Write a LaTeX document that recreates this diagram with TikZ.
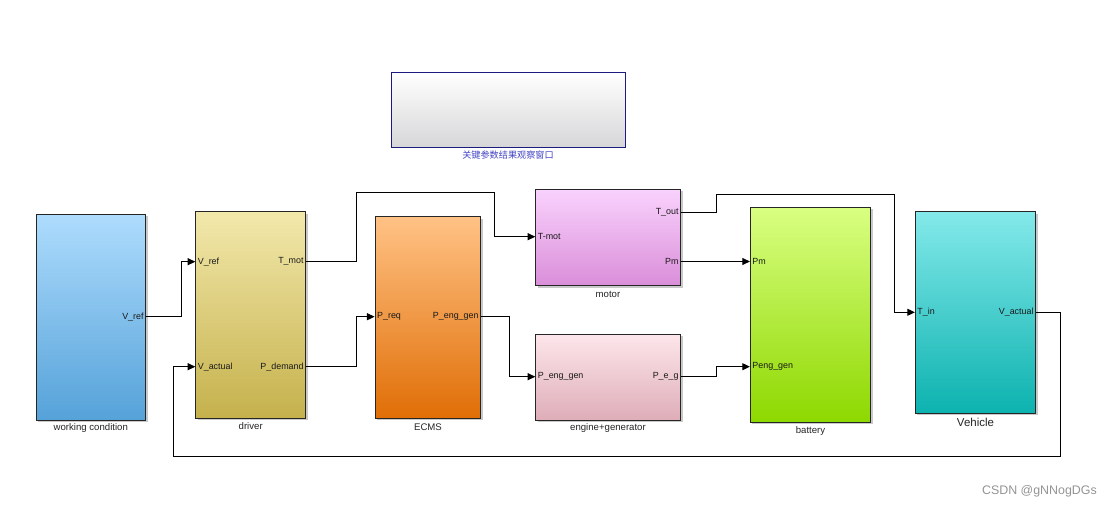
\documentclass[tikz,border=0pt]{standalone}
\usepackage{fontspec}
\setmainfont{Liberation Sans}
\newfontfamily\cjk{Noto Sans CJK SC}
\usetikzlibrary{arrows.meta,fit,shadows}
\definecolor{wcT}{HTML}{AEDCFD}\definecolor{wcB}{HTML}{55A2D9}
\definecolor{drT}{HTML}{F2E8AB}\definecolor{drB}{HTML}{C5B14C}
\definecolor{ecT}{HTML}{FFC285}\definecolor{ecB}{HTML}{E06E06}
\definecolor{moT}{HTML}{F9D2FD}\definecolor{moB}{HTML}{DA8ED9}
\definecolor{egT}{HTML}{FDE6EB}\definecolor{egB}{HTML}{DEADB8}
\definecolor{baT}{HTML}{D9FF82}\definecolor{baB}{HTML}{8ED800}
\definecolor{veT}{HTML}{84E9EA}\definecolor{veB}{HTML}{0CB2AF}
\definecolor{scB}{HTML}{D6D6D8}\definecolor{scE}{HTML}{1C1C80}
\definecolor{cjkC}{HTML}{4444C4}
\tikzset{
  blk/.style={draw=black!85, line width=0.7pt, inner sep=0pt,
    drop shadow={shadow xshift=1.6pt, shadow yshift=-1.6pt, opacity=0.35, fill=black!60}},
  port/.style={font=\fontsize{7.6}{9}\selectfont, inner sep=1pt, text=black!90},
  blkcap/.style={font=\fontsize{8.2}{10}\selectfont, inner sep=0pt, text=black!85},
  wire/.style={line width=0.8pt, draw=black},
  sig/.style={wire, -{Triangle[length=6.5pt,width=6pt]}},
}
\begin{document}
\begin{tikzpicture}[x=0.03cm, y=-0.03cm]
\useasboundingbox (0,0) rectangle (1113,508);
\fill[white] (0,0) rectangle (1113,508);

% scope window
\node[draw=scE, line width=0.8pt, top color=white, bottom color=scB, inner sep=0pt,
  fit={(391,72.5) (625.5,147.5)}] (scope) {};
\node[font=\cjk\fontsize{7.8}{9}\selectfont, text=cjkC, inner sep=0pt] (scopecap) at (508,155.5) {关键参数结果观察窗口};

% blocks
\node[blk, top color=wcT, bottom color=wcB, fit={(36,214.3) (145.7,420)}] (wc) {};
\node[blk, top color=drT, bottom color=drB, fit={(195.7,211.7) (305.7,418)}] (drv) {};
\node[blk, top color=ecT, bottom color=ecB, fit={(375,216.7) (480.7,418.3)}] (ecms) {};
\node[blk, top color=moT, bottom color=moB, fit={(535.7,189.3) (680.7,285.7)}] (mot) {};
\node[blk, top color=egT, bottom color=egB, fit={(535.7,334.3) (680.7,420)}] (eng) {};
\node[blk, top color=baT, bottom color=baB, fit={(750.3,207.3) (870.7,422.3)}] (bat) {};
\node[blk, top color=veT, bottom color=veB, fit={(915.3,211.7) (1035.7,413.3)}] (veh) {};

% captions
\node[blkcap] (wccap) at (90.8,428.5) {working condition};
\node[blkcap] (drvcap) at (250.7,426.5) {driver};
\node[blkcap] (ecmscap) at (428,426.8) {ECMS};
\node[blkcap] (motcap) at (608,294) {motor};
\node[blkcap] (engcap) at (608,428.5) {engine+generator};
\node[blkcap] (batcap) at (810.5,431) {battery};
\node[blkcap, font=\fontsize{9.8}{11}\selectfont] (vehcap) at (975.5,422.5) {Vehicle};

% port coordinates
\coordinate (wc-o) at (wc.east |- 0,316.7);
\coordinate (drv-i1) at (drv.west |- 0,261.7);
\coordinate (drv-i2) at (drv.west |- 0,366.7);
\coordinate (drv-o1) at (drv.east |- 0,261.7);
\coordinate (drv-o2) at (drv.east |- 0,366.7);
\coordinate (ecms-i) at (ecms.west |- 0,316.7);
\coordinate (ecms-o) at (ecms.east |- 0,316.7);
\coordinate (mot-i) at (mot.west |- 0,236.7);
\coordinate (mot-o1) at (mot.east |- 0,212.3);
\coordinate (mot-o2) at (mot.east |- 0,261.5);
\coordinate (eng-i) at (eng.west |- 0,376.7);
\coordinate (eng-o) at (eng.east |- 0,376.7);
\coordinate (bat-i1) at (bat.west |- 0,261.5);
\coordinate (bat-i2) at (bat.west |- 0,366.7);
\coordinate (veh-i) at (veh.west |- 0,312.3);
\coordinate (veh-o) at (veh.east |- 0,312.3);

% port labels
\node[port, anchor=east] (l1) at ([xshift=-1pt]wc-o) {V\_ref};
\node[port, anchor=west] (l2) at ([xshift=1pt]drv-i1) {V\_ref};
\node[port, anchor=west] (l3) at ([xshift=1pt]drv-i2) {V\_actual};
\node[port, anchor=east] (l4) at ([xshift=-1pt]drv-o1) {T\_mot};
\node[port, anchor=east] (l5) at ([xshift=-1pt]drv-o2) {P\_demand};
\node[port, anchor=west] (l6) at ([xshift=1pt]ecms-i) {P\_req};
\node[port, anchor=east] (l7) at ([xshift=-1pt]ecms-o) {P\_eng\_gen};
\node[port, anchor=west] (l8) at ([xshift=1pt]mot-i) {T-mot};
\node[port, anchor=east] (l9) at ([xshift=-1pt]mot-o1) {T\_out};
\node[port, anchor=east] (l10) at ([xshift=-1pt]mot-o2) {Pm};
\node[port, anchor=west] (l11) at ([xshift=1pt]eng-i) {P\_eng\_gen};
\node[port, anchor=east] (l12) at ([xshift=-1pt]eng-o) {P\_e\_g};
\node[port, anchor=west] (l13) at ([xshift=1pt]bat-i1) {Pm};
\node[port, anchor=west] (l14) at ([xshift=1pt]bat-i2) {Peng\_gen};
\node[port, anchor=west] (l15) at ([xshift=1pt]veh-i) {T\_in};
\node[port, anchor=east] (l16) at ([xshift=-1pt]veh-o) {V\_actual};

% wires
\draw[sig] (wc-o) -- (181.7,316.7) -- (181.7,261.7) -- (drv-i1);
\draw[sig] (drv-o1) -- (356,261.7) -- (356,192.7) -- (494.3,192.7) -- (494.3,236.7) -- (mot-i);
\draw[sig] (drv-o2) -- (356,366.7) -- (356,316.7) -- (ecms-i);
\draw[sig] (ecms-o) -- (509.3,316.7) -- (509.3,376.7) -- (eng-i);
\draw[sig] (mot-o2) -- (bat-i1);
\draw[sig] (eng-o) -- (716,376.7) -- (716,366.7) -- (bat-i2);
\draw[sig] (mot-o1) -- (716,212.3) -- (716,194.3) -- (894,194.3) -- (894,312.3) -- (veh-i);
\draw[sig] (veh-o) -- (1060,312.3) -- (1060,456) -- (173.3,456) -- (173.3,366.7) -- (drv-i2);

% watermark
\node[font=\fontsize{10.6}{12}\selectfont, text=black!42, anchor=east, inner sep=0pt] (wm) at (1097,491.5) {CSDN @gNNogDGs};
\end{tikzpicture}
\end{document}
